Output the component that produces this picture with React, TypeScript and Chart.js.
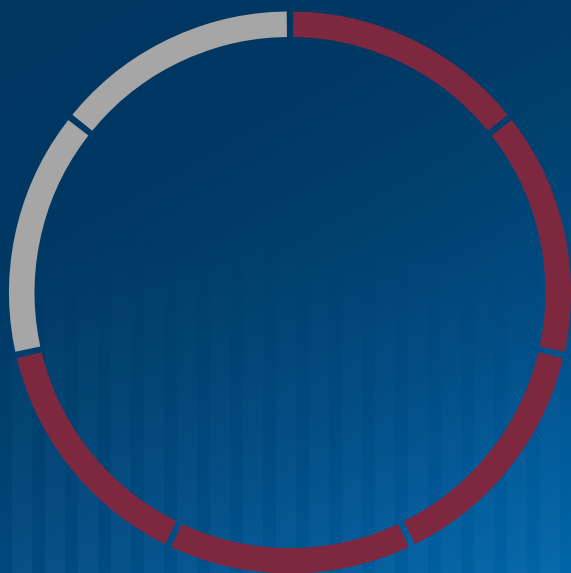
import React, { useEffect, useRef } from "react";
import { Chart, registerables } from "chart.js";

Chart.register(...registerables);

// Data: 7 equal segments, 5 highlighted (red) and 2 remaining (gray)
const categories = ["1", "2", "3", "4", "5", "6", "7"];
const values = [1, 1, 1, 1, 1, 1, 1];
const RED = "#7e283f";
const GRAY = "#a6a6a6";
const segmentColors = [RED, RED, RED, RED, RED, GRAY, GRAY];

export default function App() {
  const canvasRef = useRef<HTMLCanvasElement | null>(null);

  useEffect(() => {
    document.body.style.margin = "0";
    const canvas = canvasRef.current;
    if (!canvas) return;
    const chart = new Chart(canvas, {
      type: "doughnut",
      data: {
        labels: categories,
        datasets: [
          {
            data: values,
            backgroundColor: segmentColors,
            borderWidth: 0,
            spacing: 14,
          },
        ],
      },
      options: {
        animation: false,
        responsive: false,
        radius: 274,
        cutout: 248,
        rotation: 0,
        layout: { padding: { left: 9, top: 12, right: 0, bottom: 0 } },
        plugins: {
          legend: { display: false },
          tooltip: { enabled: false },
        },
      },
    });
    return () => chart.destroy();
  }, []);

  return (
    <div
      style={{
        position: "fixed",
        left: 0,
        top: 0,
        width: 571,
        height: 573,
        overflow: "hidden",
        background:
          "linear-gradient(150deg, #003660 0%, #003864 30%, #00416f 50%, #004c84 70%, #005a98 85%, #0066a8 100%)",
      }}
    >
      <div
        style={{
          position: "absolute",
          inset: 0,
          background:
            "repeating-linear-gradient(90deg, rgba(255,255,255,0) 0px, rgba(255,255,255,0) 12px, rgba(90,160,220,0.08) 12px, rgba(90,160,220,0.08) 32px, rgba(255,255,255,0) 32px, rgba(255,255,255,0) 33px)",
          WebkitMaskImage: "linear-gradient(180deg, rgba(0,0,0,0) 40%, rgba(0,0,0,1) 100%)",
          maskImage: "linear-gradient(180deg, rgba(0,0,0,0) 40%, rgba(0,0,0,1) 100%)",
        }}
      />
      <canvas
        ref={canvasRef}
        width={571}
        height={573}
        style={{ position: "absolute", left: 0, top: 0, width: 571, height: 573 }}
      />
    </div>
  );
}
